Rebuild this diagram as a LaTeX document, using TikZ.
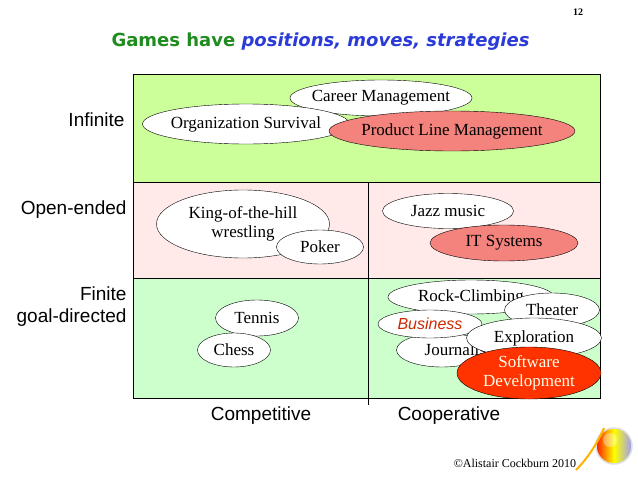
\documentclass[tikz,border=0pt]{standalone}
\usepackage{fontspec}
\setmainfont{Liberation Serif}
\newfontfamily\lsans{Liberation Sans}
\newfontfamily\ttl{DejaVu Sans}
\usetikzlibrary{shapes.geometric}
\definecolor{gA}{HTML}{CCFF99}
\definecolor{pB}{HTML}{FFE9E9}
\definecolor{gC}{HTML}{CCFFCC}
\definecolor{sal}{HTML}{F4837D}
\definecolor{org}{HTML}{FF3300}
\definecolor{tgreen}{HTML}{1E8C1E}
\definecolor{tblue}{HTML}{2B3BD8}
\tikzset{
  el/.style={ellipse,draw=black,fill=white,inner sep=0pt},
  tx/.style={font=\fontsize{17}{19}\selectfont,align=center,inner sep=0pt},
  ax/.style={font=\lsans\fontsize{19}{22}\selectfont}
}
\begin{document}
\begin{tikzpicture}[x=1pt,y=-1pt]
\useasboundingbox (0,0) rectangle (638,479);
\fill[white] (0,0) rectangle (638,479);
\fill[gA] (133,74) rectangle (600,182);
\fill[pB] (133,182) rectangle (600,278);
\fill[gC] (133,278) rectangle (600,398);
\draw (133,74) rectangle (600,398);
\draw (133,182) -- (600,182);
\draw (133,278) -- (600,278);
\coordinate (vt) at (368,182);
\coordinate (vb) at (368,405);
\draw (vt) -- (vb);
\node[font=\bfseries\fontsize{10}{12}\selectfont] (pg) at (578,12) {12};
\node[font=\ttl\bfseries\fontsize{18}{21}\selectfont,anchor=west] (title) at (108,42) {\textcolor{tgreen}{Games have} \textcolor{tblue}{\itshape positions, moves, strategies}};
\node[el,minimum width=182,minimum height=36,label={[tx]center:Career Management}] (career) at (381,98) {};
\node[el,minimum width=207,minimum height=40,label={[tx]center:Organization Survival}] (org) at (246,124) {};
\node[el,fill=sal,minimum width=246,minimum height=40,label={[tx]center:Product Line Management}] (plm) at (452,131) {};
\node[el,minimum width=173,minimum height=68,label={[tx]center:King-of-the-hill\\wrestling}] (king) at (243,224) {};
\node[el,minimum width=87,minimum height=34,label={[tx]center:Poker}] (poker) at (320,247) {};
\node[el,minimum width=131,minimum height=35,label={[tx]center:Jazz music}] (jazz) at (448,211) {};
\node[el,fill=sal,minimum width=148,minimum height=36,label={[tx]center:IT Systems}] (it) at (504,243) {};
\node[el,minimum width=83,minimum height=36,label={[tx]center:Tennis}] (tennis) at (257,318) {};
\node[el,minimum width=73,minimum height=34,label={[tx]center:Chess}] (chess) at (234,350) {};
\node[el,minimum width=166,minimum height=34,label={[tx]center:Rock-Climbing}] (rock) at (471,297) {};
\node[el,minimum width=95,minimum height=34,label={[tx]center:Theater}] (theater) at (552,310) {};
\node[el,minimum width=91,minimum height=34,label={[tx,xshift=20]center:Journalism}] (journal) at (442,350) {};
\node[el,minimum width=104,minimum height=28,label={[tx,font=\lsans\itshape\fontsize{16}{18}\selectfont,text=org!80!black]center:Business}] (bus) at (430,324) {};
\node[el,minimum width=135,minimum height=40,label={[tx]center:Exploration}] (expl) at (534,338) {};
\node[el,fill=org,minimum width=144,minimum height=52,label={[tx,text=white!92!yellow,font=\fontsize{17}{19}\selectfont]center:Software\\Development}] (sw) at (529,373) {};
\node[ax,anchor=east] (inf) at (128,120) {Infinite};
\node[ax,anchor=east] (open) at (130,210) {Open-ended};
\node[ax,anchor=east,align=right] (fin) at (130,307) {Finite\\goal-directed};
\node[ax] (comp) at (261,416) {Competitive};
\node[ax] (coop) at (449,416) {Cooperative};
\node[font=\fontsize{12}{14}\selectfont] (copy) at (515,463) {\textcopyright Alistair Cockburn 2010};
% logo
\begin{scope}[shift={(614,446)},y=1pt]
\shade[left color=red!80!orange,right color=blue!40!white,middle color=yellow] (0,0) circle (18);
\shade[inner color=white,outer color=white,opacity=0.35] (-4,6) circle (7);
\draw[white!75!gray,line width=1.5] (0,0) circle (18);
\draw[orange!60!yellow,line width=2] (-38,-24) .. controls (-26,-12) and (-16,4) .. (-10,18);
\end{scope}
\end{tikzpicture}
\end{document}
